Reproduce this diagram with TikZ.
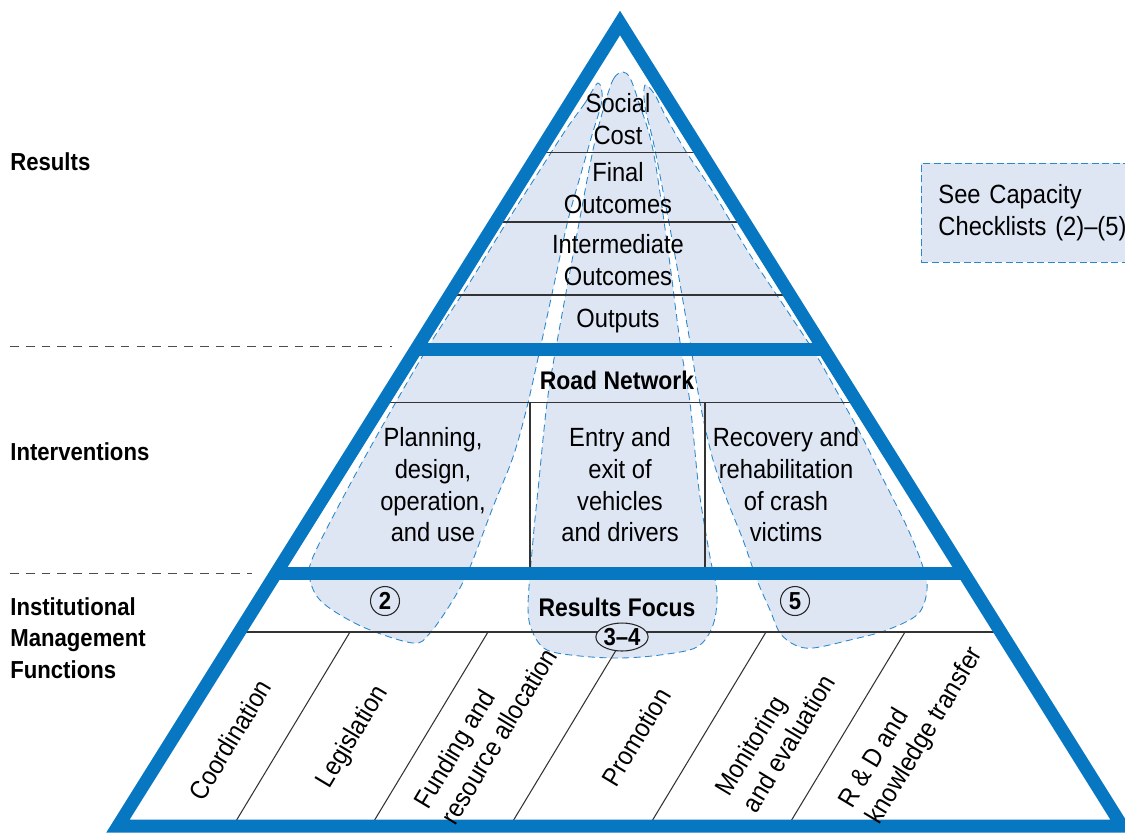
\documentclass[tikz,border=0pt]{standalone}
\usepackage{fontspec}
\setmainfont{Liberation Sans}[FakeStretch=0.9]
\usetikzlibrary{calc,shapes.geometric}

\definecolor{pyrblue}{HTML}{0877C1}
\definecolor{zonefill}{HTML}{DFE6F3}
\definecolor{zoneline}{HTML}{2A88CC}

\tikzset{
  zone/.style={fill=zonefill, draw=zoneline, line width=0.5pt, dash pattern=on 4pt off 2.5pt},
  frame/.style={draw=pyrblue, line width=7.4pt},
  rule/.style={draw=black!80, line width=0.6pt},
  guide/.style={draw=black!70, line width=0.5pt, dash pattern=on 5pt off 4pt},
  lbl/.style={font=\fontsize{15}{18}\selectfont, align=center, inner sep=0pt},
  head/.style={font=\bfseries\fontsize{14.5}{18}\selectfont, inner sep=0pt},
  side/.style={font=\bfseries\fontsize{14}{18}\selectfont, align=left, anchor=west, inner sep=0pt},
  fn/.style={font=\fontsize{15}{18}\selectfont, align=left, inner sep=0pt, rotate=59},
  num/.style={draw=black!85, line width=0.6pt, fill=zonefill, circle, inner sep=0pt, minimum size=0.58cm, font=\bfseries\fontsize{14}{14}\selectfont},
}

\begin{document}
\begin{tikzpicture}[x=0.02cm, y=-0.02cm]
    \useasboundingbox (0,0) rectangle (1125,833);

    \coordinate (top) at (620,23);
    \coordinate (bl) at (118,826);
    \coordinate (br) at (1122,826);

    % Shaded zones %
    \path[zone] plot[smooth cycle, tension=0.55] coordinates {
        (598,83) (585,103) (567,128) (540,170) (505,225) (470,282) (442,325) (422,357)
        (384,423) (347,490) (313,557) (310,580) (323,603) (363,627) (413,643) (430,633)
        (453,600) (470,567) (493,507) (513,457) (527,407) (542,340) (555,280) (568,220)
        (582,170) (592,135) (602,100)};
    \path[zone] plot[smooth cycle, tension=0.55] coordinates {
        (623,72) (614,78) (606,100) (593,150) (574,250) (557,342) (547,403) (538,490)
        (533,540) (528,607) (533,633) (547,650) (580,656) (620,658) (660,655) (697,647)
        (713,625) (717,593) (710,557) (699,490) (690,403) (680,342) (668,250) (653,150)
        (638,100) (630,78)};
    \path[zone] plot[smooth cycle, tension=0.55] coordinates {
        (645,85) (645,107) (655,150) (674,250) (690,342) (700,403) (713,460) (727,500)
        (743,540) (757,580) (770,610) (780,633) (795,645) (813,648) (850,640) (887,630)
        (918,614) (927,590) (923,567) (907,527) (880,473) (860,433) (836,390) (813,350)
        (780,300) (747,250) (715,195) (685,150) (665,115) (655,95)};

    % Thin rules %
    \foreach \t in {0.1607,0.2478,0.3387,0.472,0.7584}
        \draw[rule] ($(top)!\t!(bl)$) -- ($(top)!\t!(br)$);
    \draw[rule] (530,402) -- (530,573);
    \draw[rule] (705,402) -- (705,573);
    \foreach \x in {350,488,627,766,905}
        \draw[rule] (\x,632) -- (\x-117,826);

    % Level guides %
    \draw[guide] (10,346) -- (392,346);
    \draw[guide] (10,573) -- (252,573);

    % Pyramid %
    \coordinate (a1) at ($(top)!0.406!(bl)$);
    \coordinate (b1) at ($(top)!0.406!(br)$);
    \coordinate (a2) at ($(top)!0.685!(bl)$);
    \coordinate (b2) at ($(top)!0.685!(br)$);
    \draw[frame] (top) -- (bl) -- (br) -- cycle;
    \draw[frame] (a1) -- (b1);
    \draw[frame] (a2) -- (b2);

    % Results %
    \node[lbl] (1) at (618,119) {Social\\Cost};
    \node[lbl] (2) at (618,188) {Final\\Outcomes};
    \node[lbl] (3) at (618,260) {Intermediate\\Outcomes};
    \node[lbl] (4) at (618,321) {Outputs};

    % Interventions %
    \node[head] (5) at (617,380) {Road Network};
    \node[lbl] (6) at (433,485) {Planning,\\design,\\operation,\\and use};
    \node[lbl] (7) at (620,485) {Entry and\\exit of\\vehicles\\and drivers};
    \node[lbl] (8) at (786,485) {Recovery and\\rehabilitation\\of crash\\victims};

    % Management functions %
    \node[head] (9) at (617,607) {Results Focus};
    \node[fn] (10) at (230,740) {Coordination};
    \node[fn] (11) at (353,737) {Legislation};
    \node[fn] (12) at (485,728) {Funding and\\resource allocation};
    \node[fn] (13) at (636,737) {Promotion};
    \node[fn] (14) at (775,735) {Monitoring\\and evaluation};
    \node[fn] (15) at (912,728) {R \& D and\\knowledge transfer};

    % Checklist marks %
    \node[num] (c2) at (385,601) {2};
    \node[num] (c5) at (795,601) {5};
    \node[num, ellipse, minimum width=0.9cm, minimum height=0.56cm] (c34) at (622,637) {3--4};

    % Side labels %
    \node[side] (r) at (10,162) {Results};
    \node[side] (i) at (10,452) {Interventions};
    \node[side] (m) at (10,638) {Institutional\\Management\\Functions};

    % Key %
    \node[zone, anchor=west, text width=3.9cm, minimum height=1.98cm, inner xsep=0.34cm,
          align=left, font=\fontsize{15}{18}\selectfont, dash pattern=on 4pt off 2pt] (key)
          at (921,212.5) {See Capacity\\Checklists (2)--(5)};

\end{tikzpicture}
\end{document}
